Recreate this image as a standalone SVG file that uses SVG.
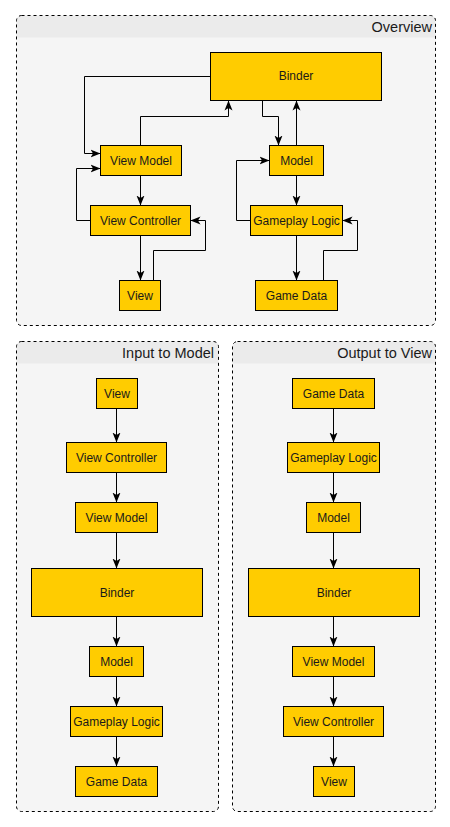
<svg xmlns="http://www.w3.org/2000/svg" width="450" height="827" viewBox="0 0 450 827">
<defs>
<marker id="arr" viewBox="0 0 10 8" refX="10" refY="4" markerWidth="10" markerHeight="9" markerUnits="userSpaceOnUse" orient="auto">
<path d="M0,0 L10,4 L0,8 L2.5,4 z" fill="#000"/>
</marker>
</defs>
<style>
.body{fill:#f5f5f5;}
.head{fill:#ebebeb;}
.frame{fill:none;stroke:#000;stroke-width:1;stroke-dasharray:3 3;}
.title{font-family:"Liberation Sans",Arial,sans-serif;font-size:14.5px;fill:#1a1a1a;text-anchor:end;}
.node rect{fill:#ffcc00;stroke:#000;stroke-width:1;}
.node text{font-family:"Liberation Sans",Arial,sans-serif;font-size:12px;fill:#1a1a1a;text-anchor:middle;}
.conn path{fill:none;stroke:#000;stroke-width:1;marker-end:url(#arr);}
</style>

<g id="container-overview">
<rect class="body" x="16.5" y="15.5" width="419" height="310" rx="5"/>
<path class="head" d="M16.5,37.5 V20.5 A5,5 0 0 1 21.5,15.5 H430.5 A5,5 0 0 1 435.5,20.5 V37.5 Z"/>
<rect class="frame" x="16.5" y="15.5" width="419" height="310" rx="5"/>
<text class="title" x="432" y="32">Overview</text>
</g>
<g id="container-input">
<rect class="body" x="16.5" y="341.5" width="202" height="470" rx="5"/>
<path class="head" d="M16.5,363.5 V346.5 A5,5 0 0 1 21.5,341.5 H213.5 A5,5 0 0 1 218.5,346.5 V363.5 Z"/>
<rect class="frame" x="16.5" y="341.5" width="202" height="470" rx="5"/>
<text class="title" x="214" y="358">Input to Model</text>
</g>
<g id="container-output">
<rect class="body" x="232.5" y="341.5" width="203" height="470" rx="5"/>
<path class="head" d="M232.5,363.5 V346.5 A5,5 0 0 1 237.5,341.5 H430.5 A5,5 0 0 1 435.5,346.5 V363.5 Z"/>
<rect class="frame" x="232.5" y="341.5" width="203" height="470" rx="5"/>
<text class="title" x="432" y="358">Output to View</text>
</g>

<g id="connectors" class="conn">
<path d="M210.5,76.5 H84.5 V153.5 H100.5"/>
<path d="M140.5,145.5 V116.5 H228.5 V100.5"/>
<path d="M262.5,100.5 V116.5 H278.5 V145.5"/>
<path d="M296.5,145.5 V100.5"/>
<path d="M90.5,220.5 H76.5 V168.5 H100.5"/>
<path d="M140.5,175.5 V205.5"/>
<path d="M140.5,235.5 V280.5"/>
<path d="M153.5,280.5 V250.5 H205.5 V220.5 H190.5"/>
<path d="M250.5,220.5 H236.5 V160.5 H269.5"/>
<path d="M296.5,175.5 V205.5"/>
<path d="M296.5,235.5 V280.5"/>
<path d="M323.5,280.5 V250.5 H357.5 V220.5 H342.5"/>

<path d="M116.5,408.5 V442.5"/>
<path d="M116.5,472.5 V502.5"/>
<path d="M116.5,532.5 V568.5"/>
<path d="M116.5,616.5 V646.5"/>
<path d="M116.5,676.5 V706.5"/>
<path d="M116.5,736.5 V766.5"/>

<path d="M333.5,408.5 V442.5"/>
<path d="M333.5,472.5 V502.5"/>
<path d="M333.5,532.5 V568.5"/>
<path d="M333.5,616.5 V646.5"/>
<path d="M333.5,676.5 V706.5"/>
<path d="M333.5,736.5 V766.5"/>
</g>

<g id="ov-binder" class="node"><rect x="210.5" y="52.5" width="171" height="48"/><text x="296" y="80">Binder</text></g>
<g id="ov-viewmodel" class="node"><rect x="100.5" y="145.5" width="81" height="30"/><text x="141" y="164.5">View Model</text></g>
<g id="ov-model" class="node"><rect x="269.5" y="145.5" width="54" height="30"/><text x="296.5" y="164.5">Model</text></g>
<g id="ov-viewcontroller" class="node"><rect x="90.5" y="205.5" width="100" height="30"/><text x="140.5" y="224.5">View Controller</text></g>
<g id="ov-gameplaylogic" class="node"><rect x="250.5" y="205.5" width="92" height="30"/><text x="296.5" y="224.5">Gameplay Logic</text></g>
<g id="ov-view" class="node"><rect x="119.5" y="280.5" width="41" height="30"/><text x="140" y="299.5">View</text></g>
<g id="ov-gamedata" class="node"><rect x="255.5" y="280.5" width="82" height="30"/><text x="296.5" y="299.5">Game Data</text></g>

<g id="in-view" class="node"><rect x="96.5" y="378.5" width="41" height="30"/><text x="117" y="397.5">View</text></g>
<g id="in-viewcontroller" class="node"><rect x="66.5" y="442.5" width="100" height="30"/><text x="116.5" y="461.5">View Controller</text></g>
<g id="in-viewmodel" class="node"><rect x="75.5" y="502.5" width="82" height="30"/><text x="116.5" y="521.5">View Model</text></g>
<g id="in-binder" class="node"><rect x="31.5" y="568.5" width="171" height="48"/><text x="117" y="596.5">Binder</text></g>
<g id="in-model" class="node"><rect x="89.5" y="646.5" width="54" height="30"/><text x="116.5" y="665.5">Model</text></g>
<g id="in-gameplaylogic" class="node"><rect x="70.5" y="706.5" width="92" height="30"/><text x="116.5" y="725.5">Gameplay Logic</text></g>
<g id="in-gamedata" class="node"><rect x="75.5" y="766.5" width="82" height="30"/><text x="116.5" y="785.5">Game Data</text></g>

<g id="out-gamedata" class="node"><rect x="292.5" y="378.5" width="82" height="30"/><text x="333.5" y="397.5">Game Data</text></g>
<g id="out-gameplaylogic" class="node"><rect x="287.5" y="442.5" width="92" height="30"/><text x="333.5" y="461.5">Gameplay Logic</text></g>
<g id="out-model" class="node"><rect x="306.5" y="502.5" width="54" height="30"/><text x="333.5" y="521.5">Model</text></g>
<g id="out-binder" class="node"><rect x="248.5" y="568.5" width="171" height="48"/><text x="334" y="596.5">Binder</text></g>
<g id="out-viewmodel" class="node"><rect x="292.5" y="646.5" width="82" height="30"/><text x="333.5" y="665.5">View Model</text></g>
<g id="out-viewcontroller" class="node"><rect x="283.5" y="706.5" width="100" height="30"/><text x="333.5" y="725.5">View Controller</text></g>
<g id="out-view" class="node"><rect x="313.5" y="766.5" width="41" height="30"/><text x="334" y="785.5">View</text></g>
</svg>
